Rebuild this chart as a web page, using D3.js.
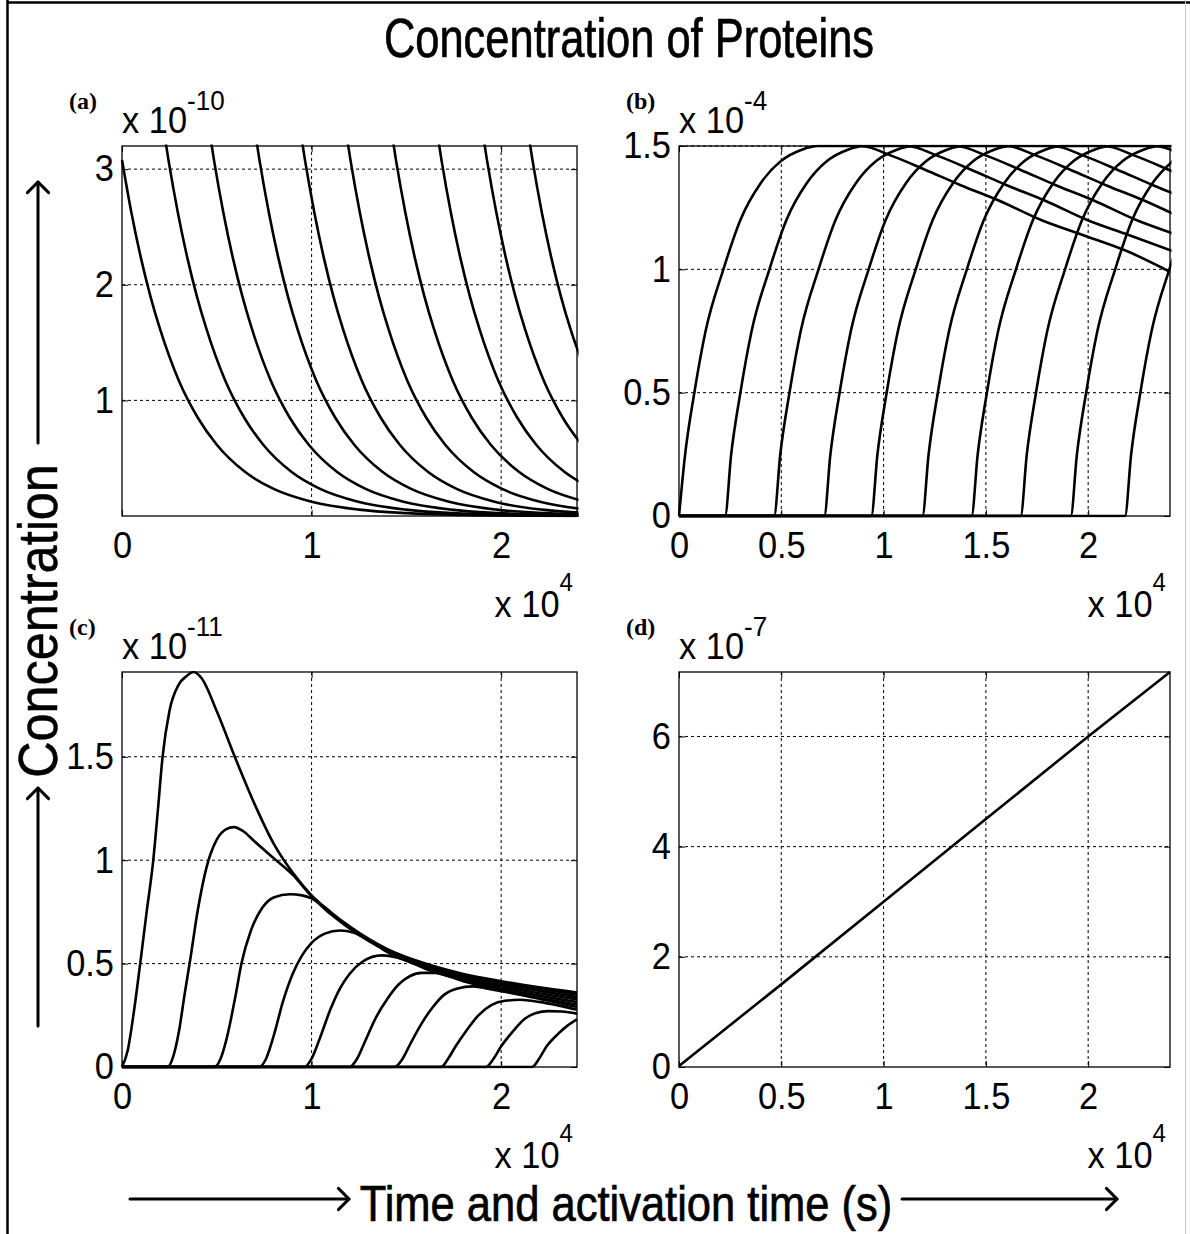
<!DOCTYPE html>
<html><head><meta charset="utf-8">
<script src="https://cdn.jsdelivr.net/npm/d3@7"></script>
<style>html,body{margin:0;padding:0;background:#fff;} svg{display:block;}</style>
</head><body><div id="chart"></div>
<script>
// ---------------- DATA (x in units of 1e4 s, y in units of the panel exponent) ----------------
const xMax = 2.4;
const xExponent = 4;
const xTicksAC = [0, 1, 2];
const xTicksBD = [0, 0.5, 1, 1.5, 2];

const yTicksA = [1, 2, 3];
const yTicksB = [0, 0.5, 1, 1.5];
const yTicksC = [0, 0.5, 1, 1.5];
const yTicksD = [0, 2, 4, 6];
const yMaxA = 3.2, yMaxB = 1.5, yMaxC = 1.91, yMaxD = 7.17;
const yExpA = -10, yExpB = -4, yExpC = -11, yExpD = -7;

// (a) decaying concentration after each activation
const curvesA = [
  [[0,3.08],[0.05,2.62],[0.1,2.23],[0.15,1.90],[0.2,1.62],[0.3,1.17],[0.4,0.85],[0.5,0.616],[0.65,0.38],[0.8,0.234],[1.0,0.123],[1.25,0.055],[1.5,0.025],[1.8,0.0094],[2.1,0.0036],[2.4,0.0013]],
  [[0.205,3.5],[0.245,3.08],[0.295,2.62],[0.345,2.23],[0.395,1.9],[0.445,1.62],[0.545,1.17],[0.645,0.85],[0.745,0.616],[0.895,0.38],[1.045,0.234],[1.245,0.123],[1.495,0.055],[1.745,0.025],[2.045,0.0094],[2.345,0.0036],[2.645,0.0013]],
  [[0.445,3.5],[0.485,3.08],[0.535,2.62],[0.585,2.23],[0.635,1.9],[0.685,1.62],[0.785,1.17],[0.885,0.85],[0.985,0.616],[1.135,0.38],[1.285,0.234],[1.485,0.123],[1.735,0.055],[1.985,0.025],[2.285,0.0094],[2.585,0.0036]],
  [[0.685,3.5],[0.725,3.08],[0.775,2.62],[0.825,2.23],[0.875,1.9],[0.925,1.62],[1.025,1.17],[1.125,0.85],[1.225,0.616],[1.375,0.38],[1.525,0.234],[1.725,0.123],[1.975,0.055],[2.225,0.025],[2.525,0.0094]],
  [[0.925,3.5],[0.965,3.08],[1.015,2.62],[1.065,2.23],[1.115,1.9],[1.165,1.62],[1.265,1.17],[1.365,0.85],[1.465,0.616],[1.615,0.38],[1.765,0.234],[1.965,0.123],[2.215,0.055],[2.465,0.025]],
  [[1.165,3.5],[1.205,3.08],[1.255,2.62],[1.305,2.23],[1.355,1.9],[1.405,1.62],[1.505,1.17],[1.605,0.85],[1.705,0.616],[1.855,0.38],[2.005,0.234],[2.205,0.123],[2.455,0.055]],
  [[1.405,3.5],[1.445,3.08],[1.495,2.62],[1.545,2.23],[1.595,1.9],[1.645,1.62],[1.745,1.17],[1.845,0.85],[1.945,0.616],[2.095,0.38],[2.245,0.234],[2.445,0.123]],
  [[1.645,3.5],[1.685,3.08],[1.735,2.62],[1.785,2.23],[1.835,1.9],[1.885,1.62],[1.985,1.17],[2.085,0.85],[2.185,0.616],[2.335,0.38],[2.485,0.234]],
  [[1.885,3.5],[1.925,3.08],[1.975,2.62],[2.025,2.23],[2.075,1.9],[2.125,1.62],[2.225,1.17],[2.325,0.85],[2.425,0.616]],
  [[2.125,3.5],[2.165,3.08],[2.215,2.62],[2.265,2.23],[2.315,1.9],[2.365,1.62],[2.465,1.17]]
];

// (b) rise, saturation at 1.5 and slow decline
const curvesB = [
  [[0,0],[0.03,0.25],[0.075,0.5],[0.13,0.75],[0.217,1.0],[0.3,1.2],[0.4,1.35],[0.5,1.44],[0.6,1.485],[0.68,1.5],[0.89,1.5],[1.04,1.46],[1.2,1.405],[1.38,1.34],[1.56,1.28],[1.77,1.2],[1.97,1.14],[2.2,1.07],[2.4,0.99]],
  [[0,0],[0.225,0],[0.255,0.25],[0.3,0.5],[0.355,0.75],[0.442,1.0],[0.525,1.2],[0.625,1.35],[0.725,1.44],[0.825,1.485],[0.905,1.5],[1.115,1.5],[1.265,1.46],[1.425,1.405],[1.605,1.34],[1.785,1.28],[1.995,1.2],[2.195,1.14],[2.425,1.07]],
  [[0,0],[0.465,0],[0.495,0.25],[0.54,0.5],[0.595,0.75],[0.682,1.0],[0.765,1.2],[0.865,1.35],[0.965,1.44],[1.065,1.485],[1.145,1.5],[1.355,1.5],[1.505,1.46],[1.665,1.405],[1.845,1.34],[2.025,1.28],[2.235,1.2],[2.435,1.14]],
  [[0,0],[0.71,0],[0.74,0.25],[0.785,0.5],[0.84,0.75],[0.927,1.0],[1.01,1.2],[1.11,1.35],[1.21,1.44],[1.31,1.485],[1.39,1.5],[1.6,1.5],[1.75,1.46],[1.91,1.405],[2.09,1.34],[2.27,1.28],[2.48,1.2]],
  [[0,0],[0.94,0],[0.97,0.25],[1.015,0.5],[1.07,0.75],[1.157,1.0],[1.24,1.2],[1.34,1.35],[1.44,1.44],[1.54,1.485],[1.62,1.5],[1.83,1.5],[1.98,1.46],[2.14,1.405],[2.32,1.34],[2.5,1.28]],
  [[0,0],[1.19,0],[1.22,0.25],[1.265,0.5],[1.32,0.75],[1.407,1.0],[1.49,1.2],[1.59,1.35],[1.69,1.44],[1.79,1.485],[1.87,1.5],[2.08,1.5],[2.23,1.46],[2.39,1.405],[2.57,1.34]],
  [[0,0],[1.43,0],[1.46,0.25],[1.505,0.5],[1.56,0.75],[1.647,1.0],[1.73,1.2],[1.83,1.35],[1.93,1.44],[2.03,1.485],[2.11,1.5],[2.32,1.5],[2.47,1.46]],
  [[0,0],[1.67,0],[1.7,0.25],[1.745,0.5],[1.8,0.75],[1.887,1.0],[1.97,1.2],[2.07,1.35],[2.17,1.44],[2.27,1.485],[2.35,1.5],[2.56,1.5]],
  [[0,0],[1.915,0],[1.945,0.25],[1.99,0.5],[2.045,0.75],[2.132,1.0],[2.215,1.2],[2.315,1.35],[2.415,1.44]],
  [[0,0],[2.18,0],[2.21,0.25],[2.255,0.5],[2.31,0.75],[2.397,1.0],[2.48,1.2]]
];

// (c) transient peaks converging to a common decay
const curvesC = [
  [[0,0],[0.03,0.08],[0.06,0.25],[0.096,0.5],[0.13,0.75],[0.165,1.0],[0.19,1.25],[0.214,1.5],[0.25,1.72],[0.3,1.85],[0.34,1.89],[0.377,1.91],[0.42,1.88],[0.5,1.72],[0.595,1.5],[0.7,1.27],[0.8,1.08],[0.9,0.94],[1.0,0.83],[1.1,0.75],[1.2,0.68],[1.4,0.57],[1.6,0.5],[1.8,0.45],[2.0,0.415],[2.2,0.385],[2.4,0.36]],
  [[0,0],[0.241,0],[0.27,0.05],[0.3,0.17],[0.33,0.35],[0.36,0.52],[0.4,0.76],[0.45,0.98],[0.5,1.1],[0.55,1.15],[0.59,1.16],[0.64,1.14],[0.7,1.09],[0.8,1.01],[0.9,0.93],[1.0,0.825],[1.1,0.745],[1.2,0.675],[1.4,0.565],[1.6,0.495],[1.8,0.443],[2.0,0.408],[2.2,0.378],[2.4,0.35]],
  [[0,0],[0.486,0],[0.52,0.04],[0.55,0.13],[0.6,0.35],[0.63,0.5],[0.68,0.66],[0.74,0.77],[0.8,0.82],[0.885,0.835],[0.95,0.83],[1.0,0.815],[1.1,0.74],[1.2,0.67],[1.4,0.56],[1.6,0.488],[1.8,0.436],[2.0,0.4],[2.2,0.368],[2.4,0.338]],
  [[0,0],[0.722,0],[0.76,0.04],[0.8,0.15],[0.85,0.32],[0.9,0.45],[0.95,0.54],[1.0,0.6],[1.07,0.645],[1.15,0.66],[1.22,0.65],[1.3,0.615],[1.4,0.555],[1.6,0.482],[1.8,0.428],[2.0,0.39],[2.2,0.357],[2.4,0.326]],
  [[0,0],[0.963,0],[1.0,0.04],[1.04,0.13],[1.1,0.28],[1.15,0.38],[1.2,0.45],[1.27,0.51],[1.37,0.54],[1.45,0.53],[1.5,0.515],[1.6,0.475],[1.8,0.42],[2.0,0.38],[2.2,0.345],[2.4,0.314]],
  [[0,0],[1.2,0],[1.24,0.04],[1.28,0.12],[1.34,0.24],[1.4,0.33],[1.46,0.4],[1.52,0.44],[1.58,0.455],[1.65,0.455],[1.8,0.415],[2.0,0.37],[2.2,0.334],[2.4,0.302]],
  [[0,0],[1.438,0],[1.48,0.04],[1.52,0.11],[1.58,0.21],[1.64,0.29],[1.7,0.35],[1.77,0.38],[1.85,0.39],[1.95,0.375],[2.1,0.35],[2.25,0.32],[2.4,0.29]],
  [[0,0],[1.683,0],[1.72,0.04],[1.76,0.1],[1.82,0.18],[1.88,0.25],[1.95,0.3],[2.02,0.32],[2.1,0.325],[2.2,0.315],[2.3,0.298],[2.4,0.277]],
  [[0,0],[1.918,0],[1.96,0.04],[2.0,0.1],[2.06,0.17],[2.12,0.23],[2.18,0.26],[2.25,0.27],[2.32,0.268],[2.4,0.258]],
  [[0,0],[2.163,0],[2.2,0.04],[2.24,0.1],[2.3,0.16],[2.35,0.2],[2.4,0.23]]
];

// (d) linear accumulation
const curvesD = [
  [[0,0.02],[0.5,1.5],[1.0,3.0],[1.5,4.5],[2.0,6.0],[2.4,7.17]]
];

const panelTags = ['(a)', '(b)', '(c)', '(d)'];
const titleText = 'Concentration of Proteins';
const xLabelText = 'Time and activation time (s)';
const yLabelText = 'Concentration';

// ---------------- LAYOUT ----------------
const W = 1190, H = 1234;
const SANS = '"Liberation Sans", Arial, Helvetica, sans-serif';
const SERIF = '"Liberation Serif", "Times New Roman", Times, serif';
const TICK_SX = 0.93;

const svg = d3.select('#chart').append('svg').attr('width', W).attr('height', H);
svg.append('rect').attr('width', W).attr('height', H).attr('fill', '#fff');

// frame
svg.append('line').attr('x1', 7).attr('x2', W).attr('y1', 2.5).attr('y2', 2.5).attr('stroke', '#000').attr('stroke-width', 2.5);
svg.append('line').attr('x1', 7.5).attr('x2', 7.5).attr('y1', 0).attr('y2', H).attr('stroke', '#000').attr('stroke-width', 2.5);
svg.append('line').attr('x1', 1185.5).attr('x2', 1185.5).attr('y1', 0).attr('y2', H).attr('stroke', '#c8c8c8').attr('stroke-width', 1);

const colL = [122, 577], colR = [679, 1170];
const rowT = [146, 516], rowB = [672, 1067];

const panels = [
  { curves: curvesA, yMax: yMaxA, yTicks: yTicksA, xTicks: xTicksAC, yExp: yExpA, tag: panelTags[0], xr: colL, yr: rowT, curve: d3.curveMonotoneX },
  { curves: curvesB, yMax: yMaxB, yTicks: yTicksB, xTicks: xTicksBD, yExp: yExpB, tag: panelTags[1], xr: colR, yr: rowT, curve: d3.curveMonotoneX },
  { curves: curvesC, yMax: yMaxC, yTicks: yTicksC, xTicks: xTicksAC, yExp: yExpC, tag: panelTags[2], xr: colL, yr: rowB, curve: d3.curveMonotoneX },
  { curves: curvesD, yMax: yMaxD, yTicks: yTicksD, xTicks: xTicksBD, yExp: yExpD, tag: panelTags[3], xr: colR, yr: rowB, curve: d3.curveLinear }
];

function styleAxis(g) {
  g.select('.domain').remove();
  g.selectAll('.tick line').attr('stroke', '#000').attr('stroke-width', 1);
  g.selectAll('.tick text').each(function () {
    const t = d3.select(this);
    const tx = +t.attr('x') || 0, ty = +t.attr('y') || 0;
    t.attr('x', 0).attr('y', 0)
      .attr('transform', `translate(${tx},${ty}) scale(${TICK_SX},1)`)
      .attr('fill', '#000').attr('font-family', SANS).attr('font-size', 37);
  });
}

panels.forEach((p, i) => {
  const [x0, x1] = p.xr, [y0, y1] = p.yr;
  const x = d3.scaleLinear().domain([0, xMax]).range([x0, x1]);
  const y = d3.scaleLinear().domain([0, p.yMax]).range([y1, y0]);
  const g = svg.append('g');

  // grid
  const grid = g.append('g').attr('stroke', '#000').attr('stroke-width', 1).attr('stroke-dasharray', '3,3');
  p.xTicks.filter(t => t > 0 && t < xMax).forEach(t => {
    grid.append('line').attr('x1', x(t)).attr('x2', x(t)).attr('y1', y0).attr('y2', y1);
  });
  p.yTicks.filter(t => t > 0).forEach(t => {
    grid.append('line').attr('x1', x0).attr('x2', x1).attr('y1', y(t)).attr('y2', y(t));
  });

  // clip
  const cid = 'clip' + i;
  svg.append('clipPath').attr('id', cid).append('rect')
    .attr('x', x0 - 1.5).attr('y', y0 - 1.5).attr('width', x1 - x0 + 3).attr('height', y1 - y0 + 3);

  const line = d3.line().x(d => x(d[0])).y(d => y(d[1])).curve(p.curve);
  g.append('g').attr('clip-path', `url(#${cid})`)
    .selectAll('path').data(p.curves).join('path')
    .attr('d', line).attr('fill', 'none').attr('stroke', '#000')
    .attr('stroke-width', 2.6).attr('stroke-linejoin', 'round');

  // box
  g.append('rect').attr('x', x0).attr('y', y0).attr('width', x1 - x0).attr('height', y1 - y0)
    .attr('fill', 'none').attr('stroke', '#000').attr('stroke-width', 1.3);

  // axes (inward ticks)
  g.append('g').attr('transform', `translate(0,${y1})`)
    .call(d3.axisBottom(x).tickValues(p.xTicks).tickSize(-6).tickSizeOuter(0).tickPadding(16).tickFormat(d => String(d)))
    .call(styleAxis);
  g.append('g').attr('transform', `translate(${x0},0)`)
    .call(d3.axisLeft(y).tickValues(p.yTicks).tickSize(-6).tickSizeOuter(0).tickPadding(8).tickFormat(d => String(d)))
    .call(styleAxis);
  g.append('g').attr('transform', `translate(0,${y0})`)
    .call(d3.axisTop(x).tickValues(p.xTicks).tickSize(-6).tickSizeOuter(0).tickFormat(''))
    .call(styleAxis);
  g.append('g').attr('transform', `translate(${x1},0)`)
    .call(d3.axisRight(y).tickValues(p.yTicks).tickSize(-6).tickSizeOuter(0).tickFormat(''))
    .call(styleAxis);

  // y exponent label
  const ye = g.append('text').attr('transform', `translate(${x0},${y0 - 13}) scale(${TICK_SX},1)`)
    .attr('font-family', SANS).attr('font-size', 37).attr('fill', '#000');
  ye.append('tspan').text('x 10');
  ye.append('tspan').attr('dy', -23).attr('font-size', 28).text(String(p.yExp));

  // x exponent label
  const xe = g.append('text').attr('transform', `translate(${x1 - 4},${y1 + 101}) scale(${TICK_SX},1)`)
    .attr('text-anchor', 'end')
    .attr('font-family', SANS).attr('font-size', 37).attr('fill', '#000');
  xe.append('tspan').text('x 10');
  xe.append('tspan').attr('dy', -26).attr('font-size', 26).text(String(xExponent));

  // panel tag
  g.append('text').attr('x', x0 - 53).attr('y', y0 - 37)
    .attr('font-family', SERIF).attr('font-weight', 'bold').attr('font-size', 24).attr('fill', '#000')
    .text(p.tag);
});

// title
svg.append('text').attr('transform', 'translate(629,57) scale(0.79,1)')
  .attr('text-anchor', 'middle').attr('font-family', SANS).attr('font-size', 55).attr('fill', '#000')
  .attr('stroke', '#000').attr('stroke-width', 0.7)
  .text(titleText);

// x label
svg.append('text').attr('transform', 'translate(626,1221) scale(0.87,1)')
  .attr('text-anchor', 'middle').attr('font-family', SANS).attr('font-size', 50).attr('fill', '#000')
  .attr('stroke', '#000').attr('stroke-width', 0.7)
  .text(xLabelText);

// y label
svg.append('text').attr('transform', 'translate(57,621) rotate(-90) scale(0.9,1)')
  .attr('text-anchor', 'middle').attr('font-family', SANS).attr('font-size', 56).attr('fill', '#000')
  .attr('stroke', '#000').attr('stroke-width', 0.5)
  .text(yLabelText);

// arrows
function arrow(x1, y1, x2, y2) {
  const a = Math.atan2(y2 - y1, x2 - x1), L = 15, spread = Math.PI / 4;
  const gA = svg.append('g').attr('stroke', '#000').attr('stroke-width', 3).attr('fill', 'none')
    .attr('stroke-linecap', 'round').attr('stroke-linejoin', 'round');
  gA.append('line').attr('x1', x1).attr('y1', y1).attr('x2', x2).attr('y2', y2);
  gA.append('path').attr('d', d3.line()([
    [x2 - L * Math.cos(a - spread), y2 - L * Math.sin(a - spread)],
    [x2, y2],
    [x2 - L * Math.cos(a + spread), y2 - L * Math.sin(a + spread)]
  ]));
}
arrow(38, 443, 38, 182);
arrow(38, 1026, 38, 788);
arrow(130, 1199, 349, 1199);
arrow(902, 1199, 1117, 1199);
</script>
</body></html>
